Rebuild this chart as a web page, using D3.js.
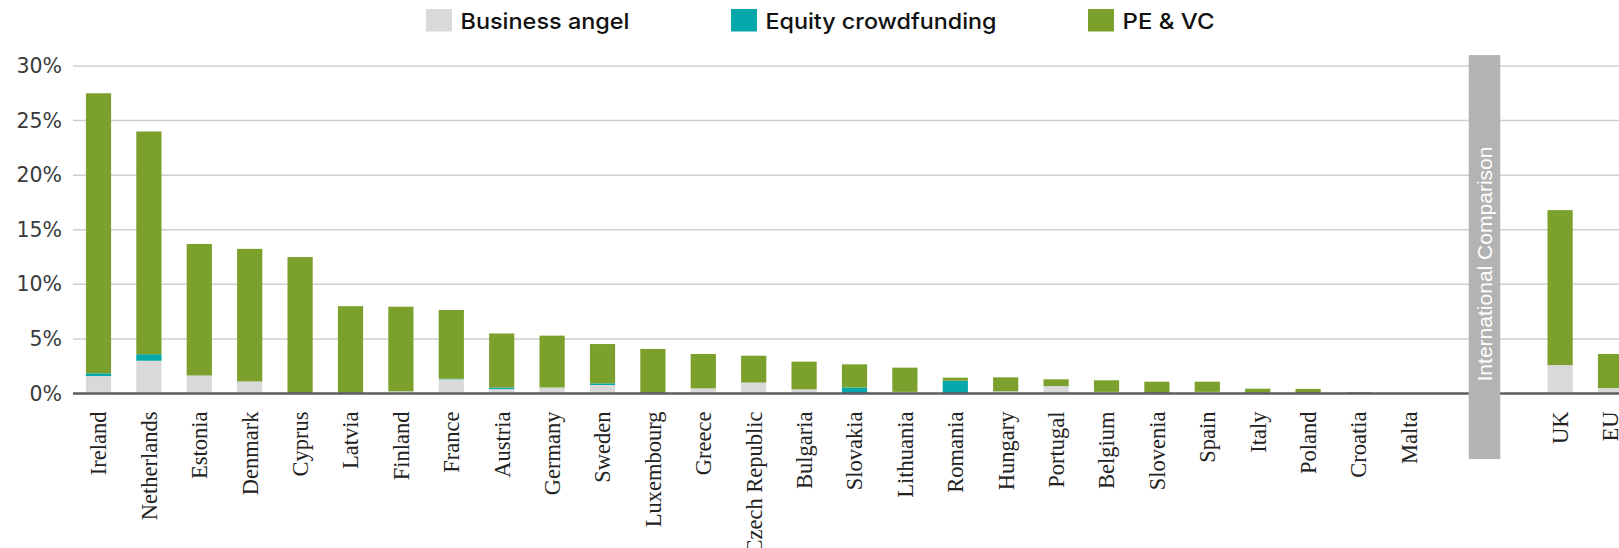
<!DOCTYPE html>
<html>
<head>
<meta charset="utf-8">
<script src="https://cdn.jsdelivr.net/npm/d3@7"></script>
<style>
  body { margin: 0; background: #fff; }
  svg { display: block; }
</style>
</head>
<body>
<svg id="chart"></svg>
<script>
// data (% values)
var countries = ["Ireland", "Netherlands", "Estonia", "Denmark", "Cyprus", "Latvia", "Finland",
    "France", "Austria", "Germany", "Sweden", "Luxembourg", "Greece", "Czech Republic",
    "Bulgaria", "Slovakia", "Lithuania", "Romania", "Hungary", "Portugal", "Belgium",
    "Slovenia", "Spain", "Italy", "Poland", "Croatia", "Malta"];
var comparison = ["UK", "EU"];

var businessAngel = [1.6, 3.0, 1.65, 1.1, 0, 0.05, 0.2, 1.3, 0.4, 0.55, 0.78, 0, 0.47, 1.0,
    0.38, 0, 0.15, 0, 0.2, 0.68, 0.15, 0, 0.15, 0.05, 0, 0, 0, 2.6, 0.5];
var equityCrowdfunding = [0.25, 0.6, 0, 0, 0, 0, 0, 0.05, 0.15, 0, 0.15, 0, 0, 0,
    0, 0.55, 0, 1.17, 0, 0, 0, 0, 0, 0, 0, 0, 0, 0, 0];
var peVc = [25.65, 20.4, 12.05, 12.15, 12.5, 7.95, 7.75, 6.3, 4.95, 4.75, 3.6, 4.08, 3.15, 2.46,
    2.54, 2.12, 2.22, 0.28, 1.28, 0.62, 1.06, 1.08, 0.93, 0.39, 0.42, 0.12, 0, 14.2, 3.12];

var seriesNames = ["Business angel", "Equity crowdfunding", "PE & VC"];
var seriesColors = ["#d9d9d9", "#05a8aa", "#7ba02c"];
var yTicks = [0, 5, 10, 15, 20, 25, 30];
var separatorLabel = "International Comparison";

var width = 1619,
    height = 548;

var names = countries.concat(comparison);
var rows = names.map(function(n, i) {
    return {name: n, ba: businessAngel[i], ec: equityCrowdfunding[i], pe: peVc[i]};
});

var svg = d3.select("#chart")
    .attr("width", width)
    .attr("height", height);

// two empty slots hold the separator band
var slots = countries.concat(["_gap1", "_gap2"], comparison);

var x = d3.scaleBand()
    .domain(slots)
    .range([85.9, 85.9 + 50.4 * (slots.length - 0.5)])
    .paddingInner(0.5)
    .paddingOuter(0);

var y = d3.scaleLinear()
    .domain([0, 30])
    .range([393.5, 66]);

var plotLeft = 73;

// gridlines
svg.append("g")
    .attr("class", "grid")
    .selectAll("line")
    .data(yTicks.filter(function(d) { return d > 0; }))
    .join("line")
    .attr("x1", plotLeft)
    .attr("x2", width)
    .attr("y1", function(d) { return y(d); })
    .attr("y2", function(d) { return y(d); })
    .attr("stroke", "#cfcfcf")
    .attr("stroke-width", 1.5);

// y axis labels
var yAxis = d3.axisLeft(y)
    .tickValues(yTicks)
    .tickFormat(function(d) { return d + "%"; })
    .tickSize(0)
    .tickPadding(11);

svg.append("g")
    .attr("class", "y axis")
    .attr("transform", "translate(" + plotLeft + ",0)")
    .call(yAxis)
    .call(function(g) { g.select(".domain").remove(); })
    .selectAll("text")
    .attr("font-family", "'DejaVu Sans', sans-serif")
    .attr("font-size", 20.5)
    .attr("fill", "#3a3a3a");

// stacked bars
var stack = d3.stack().keys(["ba", "ec", "pe"]);
var layers = stack(rows);

svg.append("g")
    .attr("class", "bars")
    .selectAll("g")
    .data(layers)
    .join("g")
    .attr("fill", function(d, i) { return seriesColors[i]; })
    .selectAll("rect")
    .data(function(d) { return d.filter(function(p) { return p[1] - p[0] > 0; }); })
    .join("rect")
    .attr("x", function(d) { return x(d.data.name); })
    .attr("width", x.bandwidth())
    .attr("y", function(d) { return y(d[1]); })
    .attr("height", function(d) { return y(d[0]) - y(d[1]); });

// baseline
svg.append("line")
    .attr("x1", plotLeft)
    .attr("x2", width)
    .attr("y1", y(0))
    .attr("y2", y(0))
    .attr("stroke", "#5c5c62")
    .attr("stroke-width", 2.5);

// x labels
var xAxis = d3.axisBottom(x)
    .tickValues(names)
    .tickSize(0)
    .tickPadding(0);

svg.append("g")
    .attr("class", "x axis")
    .attr("transform", "translate(0," + y(0) + ")")
    .call(xAxis)
    .call(function(g) { g.select(".domain").remove(); })
    .selectAll("text")
    .attr("font-family", "'Liberation Serif', 'Times New Roman', serif")
    .attr("font-size", 22.5)
    .attr("fill", "#222")
    .attr("text-anchor", "end")
    .attr("transform", "translate(0,18) rotate(-90)")
    .attr("x", 0)
    .attr("y", 0)
    .attr("dy", "0.35em");

// separator band
var sepCx = (x("_gap1") + x("_gap2")) / 2 + x.bandwidth() / 2;
var sepW = x.bandwidth() * 1.25;
var sep = svg.append("g").attr("class", "separator");
sep.append("rect")
    .attr("x", sepCx - sepW / 2)
    .attr("width", sepW)
    .attr("y", y(31))
    .attr("height", y(-6) - y(31))
    .attr("fill", "#b3b3b3");
sep.append("text")
    .attr("transform", "translate(" + sepCx + "," + 264 + ") rotate(-90)")
    .attr("text-anchor", "middle")
    .attr("dy", "0.36em")
    .attr("font-family", "'Liberation Sans', Arial, sans-serif")
    .attr("font-size", 21)
    .attr("textLength", 235)
    .attr("lengthAdjust", "spacingAndGlyphs")
    .attr("fill", "#fff")
    .text(separatorLabel);

// legend
var legendX = [426, 731, 1088];
var legendW = [169, 231, 92];
var legend = svg.append("g")
    .attr("class", "legend")
    .selectAll("g")
    .data(seriesNames)
    .join("g")
    .attr("transform", function(d, i) { return "translate(" + legendX[i] + ",9)"; });

legend.append("rect")
    .attr("width", 26)
    .attr("height", 22.5)
    .attr("fill", function(d, i) { return seriesColors[i]; });

legend.append("text")
    .attr("x", 34.5)
    .attr("y", 19.5)
    .attr("font-family", "Inter, 'Liberation Sans', Arial, sans-serif")
    .attr("font-weight", 500)
    .attr("font-size", 22)
    .attr("textLength", function(d, i) { return legendW[i]; })
    .attr("lengthAdjust", "spacingAndGlyphs")
    .attr("fill", "#111")
    .text(function(d) { return d; });
</script>
</body>
</html>
